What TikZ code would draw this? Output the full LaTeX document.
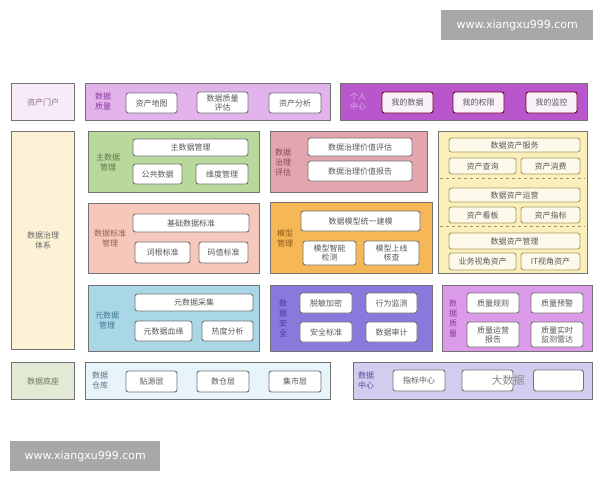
\documentclass[tikz,border=0pt]{standalone}
\usepackage{fontspec}
\newfontfamily\cjk{Noto Sans CJK SC}
\newfontfamily\wmfont{DejaVu Sans}
\definecolor{cMh}{HTML}{F7EBF7}
\definecolor{cZl}{HTML}{E2B2EA}
\definecolor{cGr}{HTML}{B857CC}
\definecolor{cTx}{HTML}{FDF2D6}
\definecolor{cZsj}{HTML}{B8D89C}
\definecolor{cBz}{HTML}{F6C8BC}
\definecolor{cYsj}{HTML}{A9D7E6}
\definecolor{cPg}{HTML}{E3A5AE}
\definecolor{cMx}{HTML}{F6B757}
\definecolor{cZc}{HTML}{FBF0BC}
\definecolor{cAq}{HTML}{8A79DC}
\definecolor{cZlb}{HTML}{DC9BE8}
\definecolor{cDz}{HTML}{E2EAD6}
\definecolor{cCk}{HTML}{E7F4F9}
\definecolor{cZx}{HTML}{D4CCEE}
\definecolor{wmgray}{HTML}{A8A8A8}
\definecolor{tMh}{HTML}{8A6A8A}
\definecolor{tTx}{HTML}{666666}
\definecolor{tDz}{HTML}{6A7A60}
\definecolor{tZl}{HTML}{8A3FA0}
\definecolor{tGr}{HTML}{E2ADEE}
\definecolor{tZsj}{HTML}{5E7A4C}
\definecolor{tBz}{HTML}{9A5E55}
\definecolor{tYsj}{HTML}{3F7A90}
\definecolor{tPg}{HTML}{8A4A55}
\definecolor{tMx}{HTML}{8A5A10}
\definecolor{tAq}{HTML}{4A3A9A}
\definecolor{tZlb}{HTML}{8A3AA0}
\definecolor{tCk}{HTML}{557585}
\definecolor{tZx}{HTML}{5A4A9A}
\definecolor{bZc}{HTML}{A89A60}
\begin{document}
\begin{tikzpicture}[x=1pt, y=-1pt,
        grp/.style={draw=black!55, line width=1.1pt, anchor=north west, inner sep=0},
        itm/.style={draw=black!55, fill=white, rounded corners=2.5pt, line width=0.9pt, text=black!65,
            align=center, inner sep=0, font=\cjk\fontsize{8}{9}\selectfont},
        lbl/.style={align=center, inner sep=0, font=\cjk\fontsize{8}{10}\selectfont},
        wm/.style={fill=wmgray, text=white, anchor=north west, inner sep=0,
            minimum height=30, font=\wmfont\fontsize{11}{13}\selectfont}
    ]
    \useasboundingbox (0,0) rectangle (600,480);
    \fill[white] (0,0) rectangle (600,480);

    \foreach \nm/\xa/\ya/\xb/\yb/\col in {
        mh/11/83/74/120/cMh, zl/85/83/330/120/cZl, gr/340/83/587/120/cGr,
        tx/11/131/74/349/cTx, zsj/88/131/259/192/cZsj, bz/88/203/259/273/cBz,
        ysj/88/285/259/351/cYsj, pg/270/131/427/192/cPg, mx/270/202/432/273/cMx,
        zc/438/131/587/273/cZc, aq/270/285/432/351/cAq, zlb/442/285/592/351/cZlb,
        dz/11/362/74/399/cDz, ck/85/362/330/399/cCk, zx/353/362/592/399/cZx} {
        \node[grp, fill=\col, minimum width={\xb-\xa}, minimum height={\yb-\ya}] (\nm) at (\xa,\ya) {};
    }

    \node[lbl, text=tMh] (t-mh) at (mh.center) {资产门户};
    \node[lbl, text=tTx] (t-tx) at (tx.center) {数据治理\\体系};
    \node[lbl, text=tDz] (t-dz) at (dz.center) {数据底座};

    \foreach \nm/\x/\y/\col/\t in {
        zl/103/101/tZl/{数据\\质量},
        gr/358/101/tGr/{个人\\中心},
        zsj/108/162/tZsj/{主数据\\管理},
        bz/110/238/tBz/{数据标准\\管理},
        ysj/107/320/tYsj/{元数据\\管理},
        pg/283/162/tPg/{数据\\治理\\评估},
        mx/285/238/tMx/{模型\\管理},
        aq/283/318/tAq/{数\\据\\安\\全},
        zlb/453/318/tZlb/{数\\据\\质\\量},
        ck/100/380/tCk/{数据\\仓库},
        zx/366/380/tZx/{数据\\中心}} {
        \node[lbl, text=\col] (t-\nm) at (\x,\y) {\t};
    }

    \foreach \nm/\x/\y/\w/\h/\t in {
        zcdt/151.5/103/51/20/资产地图, zlpg/222.5/102.5/51/21/{数据质量\\评估}, zcfx/295/103/52/20/资产分析,
        zsjgl/190.5/147.5/115/17/主数据管理, ggsj/157.5/174/49/20/公共数据, wdgl/222/174/52/20/维度管理,
        jcbz/191/223/116/18/基础数据标准, cgbz/162.5/252.5/55/21/词根标准, mzbz/223.5/252.5/49/21/码值标准,
        ysjcj/194/302.5/118/17/元数据采集, ysjxy/163.5/331/57/20/元数据血缘, rdfx/227.5/331/51/20/热度分析,
        jzpg/360/147/104/18/数据治理价值评估, jzbg/360/171/104/20/数据治理价值报告,
        tyjm/360.5/221/119/20/数据模型统一建模, znjc/329.5/253/53/24/{模型智能\\检测}, sxhc/391.5/253/55/24/{模型上线\\核查},
        tmjm/326/303/52/20/脱敏加密, xwjc/391.5/303/51/20/行为监测, aqbz/326/332/52/20/安全标准, sjsj/391.5/332/51/20/数据审计,
        zlgz/493/303/52/20/质量规则, zlyj/557/303/52/20/质量预警,
        zlyy/493/334.5/52/25/{质量运营\\报告}, zlss/557/334.5/52/25/{质量实时\\监测雷达},
        tyc/151.5/381.5/51/21/贴源层, scc/223/381.5/52/21/数仓层, jsc/295/381.5/52/21/集市层,
        zbzx/419/380.5/52/21/指标中心, kb1/487.5/380.5/51/21/{}, kb2/558.5/380.5/50/21/{}} {
        \node[itm, minimum width=\w, minimum height=\h] (\nm) at (\x,\y) {\t};
    }

    \foreach \nm/\x/\y/\w/\h/\t in {
        wdsj/407.5/102.5/51/21/我的数据, wdqx/478.5/102.5/51/21/我的权限, wdjk/551.5/102.5/51/21/我的监控} {
        \node[itm, draw=purple!60!black, fill=cGr!8!white, minimum width=\w, minimum height=\h] (\nm) at (\x,\y) {\t};
    }

    \foreach \nm/\x/\y/\w/\h/\t in {
        zcfw/514.5/145/131/14/数据资产服务, zccx/482.5/166/67/16/资产查询, zcxf/550.5/166/59/16/资产消费,
        zcyy/514.5/195/131/14/数据资产运营, zckb/482.5/215/67/16/资产看板, zczb/550.5/215/59/16/资产指标,
        zcgl/514.5/241/131/16/数据资产管理, ywzc/482.5/261.5/67/17/业务视角资产, itzc/550.5/261.5/59/17/IT视角资产} {
        \node[itm, draw=bZc, fill=cZc!30!white, minimum width=\w, minimum height=\h] (\nm) at (\x,\y) {\t};
    }

    \draw[dashed, line width=1pt, draw=bZc] (440,178) -- (585,178);
    \draw[dashed, line width=1pt, draw=bZc] (440,226) -- (585,226);

    \node[lbl, text=black!45, font=\cjk\fontsize{11}{12}\selectfont] (dsj) at (508,380) {大数据};

    \node[wm, minimum width=152] (wm1) at (441,10) {www.xiangxu999.com};
    \node[wm, minimum width=150] (wm2) at (10,441) {www.xiangxu999.com};
\end{tikzpicture}
\end{document}
